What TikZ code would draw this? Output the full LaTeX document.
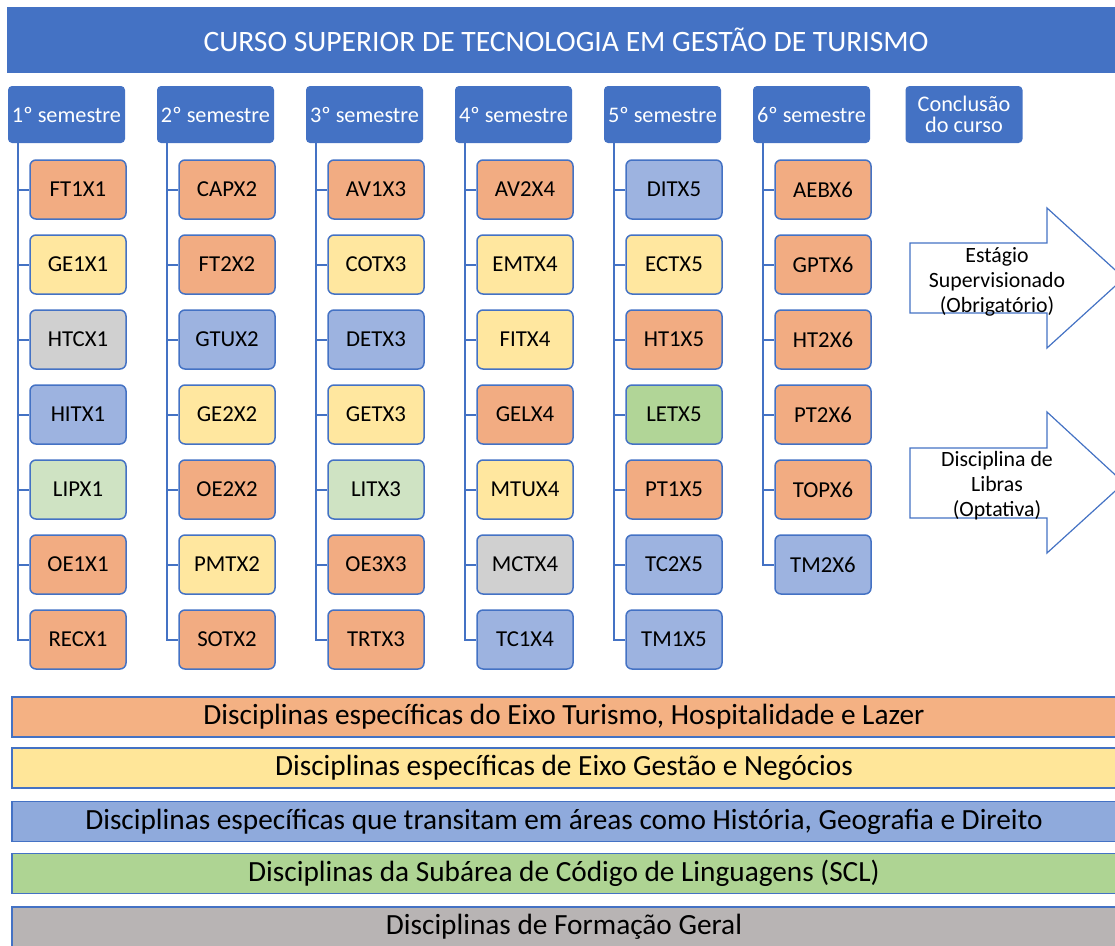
\documentclass[tikz,border=0pt]{standalone}
\usepackage{fontspec}
\setmainfont{Carlito}
\usepackage{tikz}
\usetikzlibrary{positioning}
\definecolor{azul}{HTML}{4472C4}
\definecolor{laranja}{HTML}{F2AC82}
\definecolor{amarelo}{HTML}{FFE79F}
\definecolor{azulclaro}{HTML}{9DB3E0}
\definecolor{verdeclaro}{HTML}{CFE3C3}
\definecolor{verde}{HTML}{B1D597}
\definecolor{cinza}{HTML}{D0D0D0}
\definecolor{laranjaL}{HTML}{F4B183}
\definecolor{amareloL}{HTML}{FFE699}
\definecolor{azulL}{HTML}{8FAADC}
\definecolor{verdeL}{HTML}{AED493}
\definecolor{cinzaL}{HTML}{B8B4B4}
\tikzstyle{semestre} = [rectangle, rounded corners=4pt, minimum width=117pt, minimum height=57pt, inner sep=1pt, text centered, align=center, fill=azul, text=white, font=\fontsize{22.3}{21}\selectfont]
\tikzstyle{disc} = [rectangle, rounded corners=6pt, minimum width=96pt, minimum height=59pt, text centered, draw=azul, line width=1.5pt, font=\fontsize{22.8}{22}\selectfont]
\tikzstyle{ramo} = [azul, line width=2pt]
\tikzstyle{faixa} = [rectangle, minimum width=1104pt, minimum height=40pt, inner sep=0pt, draw=azul, line width=1.5pt, font=\fontsize{29.3}{29}\selectfont]
\tikzstyle{seta} = [draw=azul, line width=1.2pt, fill=white]
\tikzstyle{rotulo} = [align=center, font=\fontsize{21.8}{25}\selectfont]

\begin{document}
\begin{tikzpicture}[x=1pt, y=-1pt, node distance=75pt]
        \useasboundingbox (0,0) rectangle (1115,945);
        \clip (0,0) rectangle (1115,945);

        \node (titulo) [rectangle, minimum width=1118pt, minimum height=66pt, fill=azul, text=white, font=\fontsize{29.6}{29}\selectfont] at (566,40) {CURSO SUPERIOR DE TECNOLOGIA EM GESTÃO DE TURISMO};

        \node (s1) [semestre] at (66.5,114.5) {1º semestre};
        \node (s2) [semestre, right of=s1, xshift=74pt] {2º semestre};
        \node (s3) [semestre, right of=s2, xshift=74pt] {3º semestre};
        \node (s4) [semestre, right of=s3, xshift=74pt] {4º semestre};
        \node (s5) [semestre, right of=s4, xshift=74pt] {5º semestre};
        \node (s6) [semestre, right of=s5, xshift=74pt] {6º semestre};
        \node (conclusao) [semestre, right of=s6, xshift=77.5pt] {Conclusão\\do curso};

        \node (ft1x1) [disc, fill=laranja, below of=s1, xshift=11.5pt] {FT1X1};
        \node (ge1x1) [disc, fill=amarelo, below of=ft1x1] {GE1X1};
        \node (htcx1) [disc, fill=cinza, below of=ge1x1] {HTCX1};
        \node (hitx1) [disc, fill=azulclaro, below of=htcx1] {HITX1};
        \node (lipx1) [disc, fill=verdeclaro, below of=hitx1] {LIPX1};
        \node (oe1x1) [disc, fill=laranja, below of=lipx1] {OE1X1};
        \node (recx1) [disc, fill=laranja, below of=oe1x1] {RECX1};

        \node (capx2) [disc, fill=laranja, below of=s2, xshift=11.5pt] {CAPX2};
        \node (ft2x2) [disc, fill=laranja, below of=capx2] {FT2X2};
        \node (gtux2) [disc, fill=azulclaro, below of=ft2x2] {GTUX2};
        \node (ge2x2) [disc, fill=amarelo, below of=gtux2] {GE2X2};
        \node (oe2x2) [disc, fill=laranja, below of=ge2x2] {OE2X2};
        \node (pmtx2) [disc, fill=amarelo, below of=oe2x2] {PMTX2};
        \node (sotx2) [disc, fill=laranja, below of=pmtx2] {SOTX2};

        \node (av1x3) [disc, fill=laranja, below of=s3, xshift=11.5pt] {AV1X3};
        \node (cotx3) [disc, fill=amarelo, below of=av1x3] {COTX3};
        \node (detx3) [disc, fill=azulclaro, below of=cotx3] {DETX3};
        \node (getx3) [disc, fill=amarelo, below of=detx3] {GETX3};
        \node (litx3) [disc, fill=verdeclaro, below of=getx3] {LITX3};
        \node (oe3x3) [disc, fill=laranja, below of=litx3] {OE3X3};
        \node (trtx3) [disc, fill=laranja, below of=oe3x3] {TRTX3};

        \node (av2x4) [disc, fill=laranja, below of=s4, xshift=11.5pt] {AV2X4};
        \node (emtx4) [disc, fill=amarelo, below of=av2x4] {EMTX4};
        \node (fitx4) [disc, fill=amarelo, below of=emtx4] {FITX4};
        \node (gelx4) [disc, fill=laranja, below of=fitx4] {GELX4};
        \node (mtux4) [disc, fill=amarelo, below of=gelx4] {MTUX4};
        \node (mctx4) [disc, fill=cinza, below of=mtux4] {MCTX4};
        \node (tc1x4) [disc, fill=azulclaro, below of=mctx4] {TC1X4};

        \node (ditx5) [disc, fill=azulclaro, below of=s5, xshift=11.5pt] {DITX5};
        \node (ectx5) [disc, fill=amarelo, below of=ditx5] {ECTX5};
        \node (ht1x5) [disc, fill=laranja, below of=ectx5] {HT1X5};
        \node (letx5) [disc, fill=verde, below of=ht1x5] {LETX5};
        \node (pt1x5) [disc, fill=laranja, below of=letx5] {PT1X5};
        \node (tc2x5) [disc, fill=azulclaro, below of=pt1x5] {TC2X5};
        \node (tm1x5) [disc, fill=azulclaro, below of=tc2x5] {TM1X5};

        \node (aebx6) [disc, fill=laranja, below of=s6, xshift=11.5pt] {AEBX6};
        \node (gptx6) [disc, fill=laranja, below of=aebx6] {GPTX6};
        \node (ht2x6) [disc, fill=laranja, below of=gptx6] {HT2X6};
        \node (pt2x6) [disc, fill=laranja, below of=ht2x6] {PT2X6};
        \node (topx6) [disc, fill=laranja, below of=pt2x6] {TOPX6};
        \node (tm2x6) [disc, fill=azulclaro, below of=topx6] {TM2X6};

        \coordinate (t1) at ([xshift=-48.5pt]s1.south);
        \coordinate (t2) at ([xshift=-48.5pt]s2.south);
        \coordinate (t3) at ([xshift=-48.5pt]s3.south);
        \coordinate (t4) at ([xshift=-48.5pt]s4.south);
        \coordinate (t5) at ([xshift=-48.5pt]s5.south);
        \coordinate (t6) at ([xshift=-48.5pt]s6.south);

        \draw [ramo] (t1) |- (ft1x1) (t1) |- (ge1x1) (t1) |- (htcx1) (t1) |- (hitx1) (t1) |- (lipx1) (t1) |- (oe1x1) (t1) |- (recx1);
        \draw [ramo] (t2) |- (capx2) (t2) |- (ft2x2) (t2) |- (gtux2) (t2) |- (ge2x2) (t2) |- (oe2x2) (t2) |- (pmtx2) (t2) |- (sotx2);
        \draw [ramo] (t3) |- (av1x3) (t3) |- (cotx3) (t3) |- (detx3) (t3) |- (getx3) (t3) |- (litx3) (t3) |- (oe3x3) (t3) |- (trtx3);
        \draw [ramo] (t4) |- (av2x4) (t4) |- (emtx4) (t4) |- (fitx4) (t4) |- (gelx4) (t4) |- (mtux4) (t4) |- (mctx4) (t4) |- (tc1x4);
        \draw [ramo] (t5) |- (ditx5) (t5) |- (ectx5) (t5) |- (ht1x5) (t5) |- (letx5) (t5) |- (pt1x5) (t5) |- (tc2x5) (t5) |- (tm1x5);
        \draw [ramo] (t6) |- (aebx6) (t6) |- (gptx6) (t6) |- (ht2x6) (t6) |- (pt2x6) (t6) |- (topx6) (t6) |- (tm2x6);

        \draw [seta] (910,243) -- (1047,243) -- (1047,208) -- (1124,278) -- (1047,348) -- (1047,313) -- (910,313) -- cycle;
        \node (estagio) [rotulo] at (997,282) {Estágio\\Supervisionado\\(Obrigatório)};
        \draw [seta] (910,448) -- (1047,448) -- (1047,412) -- (1124,483) -- (1047,553) -- (1047,518) -- (910,518) -- cycle;
        \node (libras) [rotulo] at (997,486) {Disciplina de\\Libras\\(Optativa)};

        \node (eixo1) [faixa, fill=laranjaL] at (564,717) {Disciplinas específicas do Eixo Turismo, Hospitalidade e Lazer};
        \node (eixo2) [faixa, fill=amareloL] at (564,768) {Disciplinas específicas de Eixo Gestão e Negócios};
        \node (eixo3) [faixa, fill=azulL] at (564,821.5) {Disciplinas específicas que transitam em áreas como História, Geografia e Direito};
        \node (eixo4) [faixa, fill=verdeL] at (564,873.5) {Disciplinas da Subárea de Código de Linguagens (SCL)};
        \node (eixo5) [faixa, fill=cinzaL] at (564,927) {Disciplinas de Formação Geral};
\end{tikzpicture}
\end{document}
